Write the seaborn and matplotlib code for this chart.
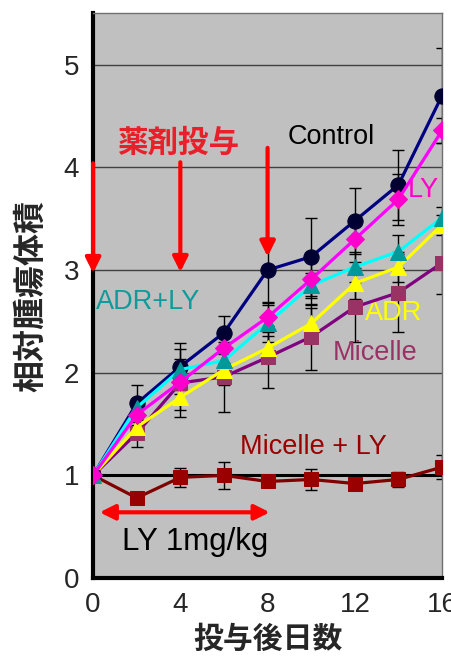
import matplotlib
matplotlib.use("Agg")
import matplotlib.pyplot as plt
import seaborn as sns
import numpy as np

days = [0, 2, 4, 6, 8, 10, 12, 14, 16]

control = [1.0, 1.70, 2.06, 2.39, 3.00, 3.13, 3.48, 3.83, 4.70]
control_err = [0, 0.18, 0.23, 0.16, 0.31, 0.38, 0.32, 0.34, 0.46]
ly = [1.0, 1.59, 1.91, 2.24, 2.54, 2.91, 3.30, 3.69, 4.36]
ly_err = [0, 0.10, 0.12, 0.15, 0.14, 0.25, 0.22, 0.25, 0.12]
adr_ly = [1.0, 1.66, 2.03, 2.12, 2.48, 2.85, 3.03, 3.18, 3.51]
adr_ly_err = [0, 0.08, 0.10, 0.10, 0.18, 0.12, 0.15, 0.16, 0.10]
adr = [1.0, 1.47, 1.76, 2.03, 2.24, 2.48, 2.87, 3.03, 3.44]
adr_err = [0, 0.08, 0.12, 0.15, 0.12, 0.15, 0.15, 0.15, 0.10]
micelle = [1.0, 1.41, 1.90, 1.96, 2.15, 2.35, 2.64, 2.78, 3.07]
micelle_err = [0, 0.13, 0.33, 0.34, 0.30, 0.32, 0.34, 0.38, 0.30]
mic_ly = [1.0, 0.78, 0.98, 1.00, 0.94, 0.96, 0.92, 0.96, 1.08]
mic_ly_err = [0, 0.05, 0.09, 0.13, 0.04, 0.10, 0.05, 0.07, 0.12]

xticks = [0, 4, 8, 12, 16]
yticks = [0, 1, 2, 3, 4, 5]
dose_days = [0, 4, 8]

sns.set_style("white")
plt.rcParams['font.family'] = ['Liberation Sans', 'Noto Sans CJK JP', 'DejaVu Sans']

fig = plt.figure(figsize=(4.52, 6.58), dpi=100)
ax = fig.add_axes([0.206, 0.1216, 0.772, 0.858])
ax.set_facecolor('#c0c0c0')

for yv in yticks[2:]:
    ax.axhline(yv, color='#404040', lw=1.0, zorder=1)
ax.axhline(1, color='black', lw=2.2, zorder=1)

series = [
    (mic_ly, mic_ly_err, '#800000', '#990000', 's', 10),
    (micelle, micelle_err, '#800080', '#993366', 's', 10),
    (adr, adr_err, '#ffff00', '#ffff00', '^', 12),
    (control, control_err, '#000080', '#000033', 'o', 11),
    (adr_ly, adr_ly_err, '#00ffff', '#009999', '^', 12),
    (ly, ly_err, '#ff00ff', '#ff00cc', 'D', 9.5),
]

z = 3
for vals, err, lc, mc, mk, ms in series:
    ax.errorbar(days, vals, yerr=err, fmt='none', ecolor='black', elinewidth=1,
                capsize=4, capthick=1, zorder=2)
    sns.lineplot(x=days, y=vals, ax=ax, color=lc, lw=2.3, marker=mk, markersize=ms,
                 markerfacecolor=mc, markeredgecolor=mc, zorder=z)
    z += 1

ax.set_xlim(0, 16)
ax.set_ylim(0, 5.5)
ax.set_xticks(xticks)
ax.set_yticks(yticks)
ax.set_xticklabels([str(v) for v in xticks], fontsize=20)
ax.set_yticklabels([str(v) for v in yticks], fontsize=20)
ax.tick_params(axis='x', direction='in', length=4, width=1.5, color='black', pad=10)
ax.tick_params(axis='y', length=0, pad=10)

for s in ['left', 'bottom']:
    ax.spines[s].set_color('black')
    ax.spines[s].set_linewidth(3)
for s in ['top', 'right']:
    ax.spines[s].set_color('#707070')
    ax.spines[s].set_linewidth(1)

ax.set_xlabel('投与後日数', fontsize=21.5, fontweight='bold', family=['Noto Sans CJK JP'], labelpad=4)
ax.set_ylabel('相対腫瘍体積', fontsize=23, fontweight='bold', family=['Noto Sans CJK JP'], labelpad=12)

# dosing arrows
tops = [4.04, 4.05, 4.19]
tips = [2.97, 2.98, 3.13]
for d, t0, t1 in zip(dose_days, tops, tips):
    ax.annotate('', xy=(d, t1), xytext=(d, t0),
                arrowprops=dict(arrowstyle='-|>,head_length=0.9,head_width=0.45',
                                color='red', lw=3, shrinkA=0, shrinkB=0),
                annotation_clip=False, zorder=10)
ax.text(3.9, 4.24, '薬剤投与', color='#e8202a', fontsize=22, fontweight='bold',
        family=['Noto Sans CJK JP'], ha='center', va='center')

ax.annotate('', xy=(0.3, 0.64), xytext=(8.1, 0.64),
            arrowprops=dict(arrowstyle='<|-|>,head_length=0.9,head_width=0.45',
                            color='red', lw=3, shrinkA=0, shrinkB=0), zorder=10)

ax.text(10.9, 4.30, 'Control', color='black', fontsize=19.5, ha='center', va='center')
ax.text(15.15, 3.78, 'LY', color='#ff00cc', fontsize=19.5, ha='center', va='center')
ax.text(2.5, 2.69, 'ADR+LY', color='#109a9a', fontsize=19.5, ha='center', va='center')
ax.text(13.8, 2.58, 'ADR', color='#ffff00', fontsize=19.5, ha='center', va='center')
ax.text(12.95, 2.19, 'Micelle', color='#993366', fontsize=19.5, ha='center', va='center')
ax.text(10.1, 1.28, 'Micelle + LY', color='#990000', fontsize=19.5, ha='center', va='center')
ax.text(4.7, 0.35, 'LY 1mg/kg', color='black', fontsize=22.5, ha='center', va='center')

fig.savefig('out.png', dpi=100)
